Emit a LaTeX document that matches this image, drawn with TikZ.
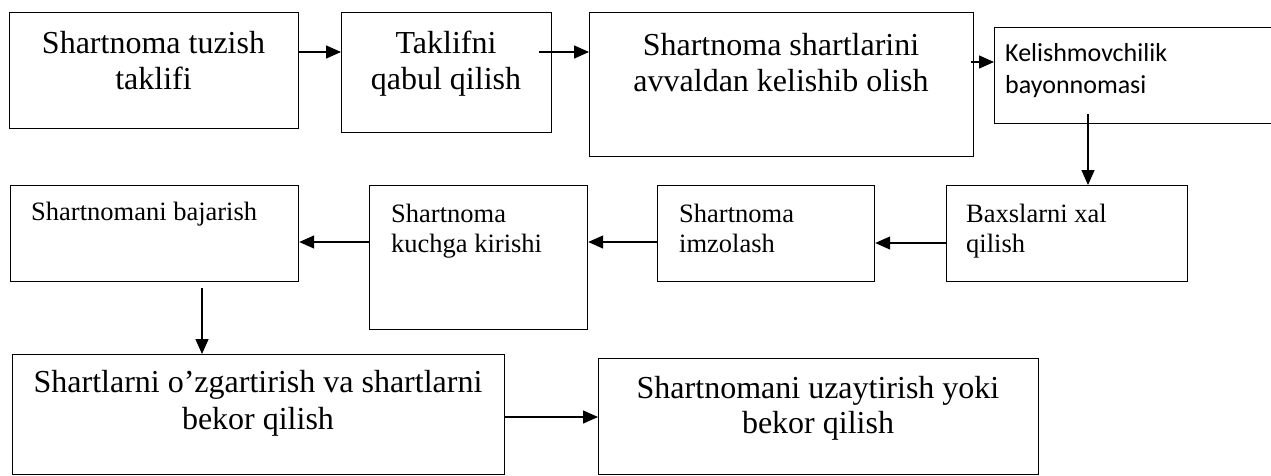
\documentclass[tikz,border=0pt]{standalone}
\usepackage{fontspec}
\setmainfont{Liberation Serif}
\newfontfamily\calib{Carlito}
\usetikzlibrary{arrows.meta,calc}
\tikzset{
  box/.style={draw=black, line width=1.2pt, inner sep=0pt, anchor=north west, fill=white},
  bigtxt/.style={inner sep=0pt, anchor=base, align=center, font=\fontsize{32}{36}\selectfont},
  smalltxt/.style={inner sep=0pt, anchor=base west, align=left, font=\fontsize{26.5}{30}\selectfont},
  arr/.style={line width=1.4pt, -{Triangle[length=15pt,width=13pt]}}
}
\begin{document}
\begin{tikzpicture}[x=1pt,y=-1pt]
\useasboundingbox (0,0) rectangle (1271,475);
% boxes
\node[box, minimum width=289pt, minimum height=116pt] (b1) at (9,12) {};
\node[box, minimum width=210pt, minimum height=120pt] (b2) at (341,12) {};
\node[box, minimum width=384pt, minimum height=144pt] (b3) at (589,12) {};
\node[box, minimum width=290pt, minimum height=96pt] (b4) at (994,27) {};
\node[box, minimum width=241pt, minimum height=96pt] (b5) at (946,185) {};
\node[box, minimum width=217pt, minimum height=96pt] (b6) at (657,185) {};
\node[box, minimum width=218pt, minimum height=144pt] (b7) at (369,185) {};
\node[box, minimum width=288pt, minimum height=96pt] (b8) at (10,185) {};
\node[box, minimum width=492pt, minimum height=120pt] (b9) at (12,354) {};
\node[box, minimum width=440pt, minimum height=116pt] (b10) at (598,358) {};
% texts (base anchor = baseline of the last line)
\node[bigtxt] (t1) at (153.5,89) {Shartnoma tuzish\\taklifi};
\node[bigtxt] (t2) at (446,89) {Taklifni\\qabul qilish};
\node[bigtxt] (t3) at (781,91) {Shartnoma shartlarini\\avvaldan kelishib olish};
\node[inner sep=0pt, anchor=base west, align=left, font=\calib\fontsize{26}{32}\selectfont] (t4) at (1005,93) {Kelishmovchilik\\bayonnomasi};
\node[smalltxt] (t5) at (966,252) {Baxslarni xal\\qilish};
\node[smalltxt] (t6) at (679,252) {Shartnoma\\imzolash};
\node[smalltxt] (t7) at (391,252) {Shartnoma\\kuchga kirishi};
\node[smalltxt] (t8) at (31,220) {Shartnomani bajarish};
\node[bigtxt, font=\fontsize{32}{37}\selectfont] (t9) at (258,429) {Shartlarni o’zgartirish va shartlarni\\bekor qilish};
\node[bigtxt, font=\fontsize{32}{35}\selectfont] (t10) at (818,433) {Shartnomani uzaytirish yoki\\bekor qilish};
% connectors
\draw[arr] ($(b1.north east)+(0,40)$) -- ($(b2.north west)+(0,40)$);
\draw[arr] ($(b2.north east)+(-13,40)$) -- ($(b3.north west)+(0,40)$);
\draw[arr] ($(b3.north east)+(-3,50)$) -- ($(b4.north west)+(0,35)$);
\draw[arr] ($(b4.south west)+(94,-10)$) -- ($(b5.north west)+(142,0)$);
\draw[arr] ($(b5.north west)+(0,58)$) -- ($(b6.north east)+(0,58)$);
\draw[arr] ($(b6.north west)+(0,57)$) -- ($(b7.north east)+(0,57)$);
\draw[arr] ($(b7.north west)+(0,57)$) -- ($(b8.north east)+(0,57)$);
\draw[arr] ($(b8.south west)+(192,6)$) -- ($(b9.north west)+(190,0)$);
\draw[arr] ($(b9.north east)+(0,63)$) -- ($(b10.north west)+(0,59)$);
\end{tikzpicture}
\end{document}
